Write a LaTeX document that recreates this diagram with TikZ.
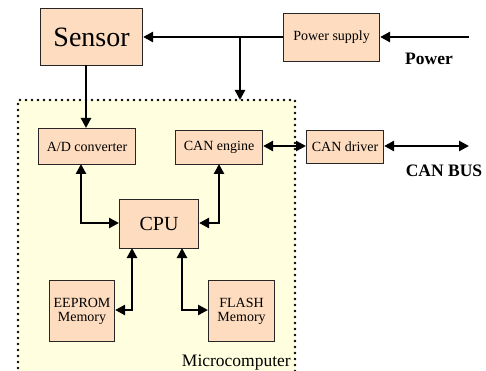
\documentclass[tikz,border=0pt]{standalone}
\usepackage{fontspec}
\setmainfont{Liberation Serif}
\usetikzlibrary{arrows.meta}
\definecolor{peach}{HTML}{FDDCBF}
\definecolor{paleyellow}{HTML}{FFFFE0}
\begin{document}
\begin{tikzpicture}[x=1pt,y=-1pt,
  blk/.style={draw=black!85, line width=1.1pt, fill=peach, inner sep=0pt, anchor=north west},
  conn/.style={line width=2.6pt, -{Triangle[length=10pt,width=10pt]}},
  bconn/.style={line width=2.6pt, {Triangle[length=10pt,width=10pt]}-{Triangle[length=10pt,width=10pt]}},
  lbl/.style={font=\fontsize{14}{16}\selectfont}]
\useasboundingbox (0,0) rectangle (486,371);
% microcomputer region
\fill[paleyellow] (18,100) rectangle (295,380);
\draw[line width=2.6pt, line cap=round, dash pattern=on 0pt off 6pt] (18,380) -- (18,100) -- (295,100) -- (295,380);
\node[anchor=south east, font=\fontsize{17.5}{19}\selectfont, inner sep=1pt] (mc) at (292,371) {Microcomputer};
% boxes
\node[blk, minimum width=102pt, minimum height=57pt, font=\fontsize{28}{32}\selectfont] (sensor) at (40,8) {Sensor};
\node[blk, minimum width=96pt, minimum height=48pt, lbl] (ps) at (283,13) {Power supply};
\node[blk, minimum width=97pt, minimum height=36pt, lbl] (ad) at (38,128) {A/D converter};
\node[blk, minimum width=87pt, minimum height=34pt, lbl] (cane) at (175,130) {CAN engine};
\node[blk, minimum width=77pt, minimum height=33pt, lbl] (cand) at (306,130) {CAN driver};
\node[blk, minimum width=79pt, minimum height=49pt, font=\fontsize{20}{22}\selectfont] (cpu) at (119,199) {CPU};
\node[blk, minimum width=65pt, minimum height=61pt, align=center, lbl] (eep) at (49,280) {EEPROM\\[-2pt]Memory};
\node[blk, minimum width=66pt, minimum height=61pt, align=center, lbl] (fl) at (208,280) {FLASH\\[-2pt]Memory};
% labels
\node[font=\bfseries\fontsize{17.5}{19}\selectfont] (pwr) at (429,59) {Power};
\node[font=\bfseries\fontsize{17.5}{19}\selectfont] (bus) at (444,171) {CAN BUS};
\coordinate (pin) at (469,37);
\coordinate (busend) at (469,146);
\coordinate (jn) at (240,37);
\coordinate (mctop) at (240,100);
% connectors
\draw[conn] (pin) -- (ps.east |- pin);
\draw[conn] (ps.west |- pin) -- (sensor.east |- pin);
\draw[conn] (jn) -- (mctop);
\draw[conn] (86,65) -- (86,128);
\draw[bconn] (cane.east |- 0,146) -- (cand.west |- 0,146);
\draw[bconn] (cand.east |- 0,146) -- (busend);
\draw[bconn] (81,164) |- (cpu.west |- 0,223);
\draw[bconn] (219,164) |- (cpu.east |- 0,223);
\draw[bconn] (132,248) |- (eep.east |- 0,310);
\draw[bconn] (182,248) |- (fl.west |- 0,310);
\end{tikzpicture}
\end{document}
